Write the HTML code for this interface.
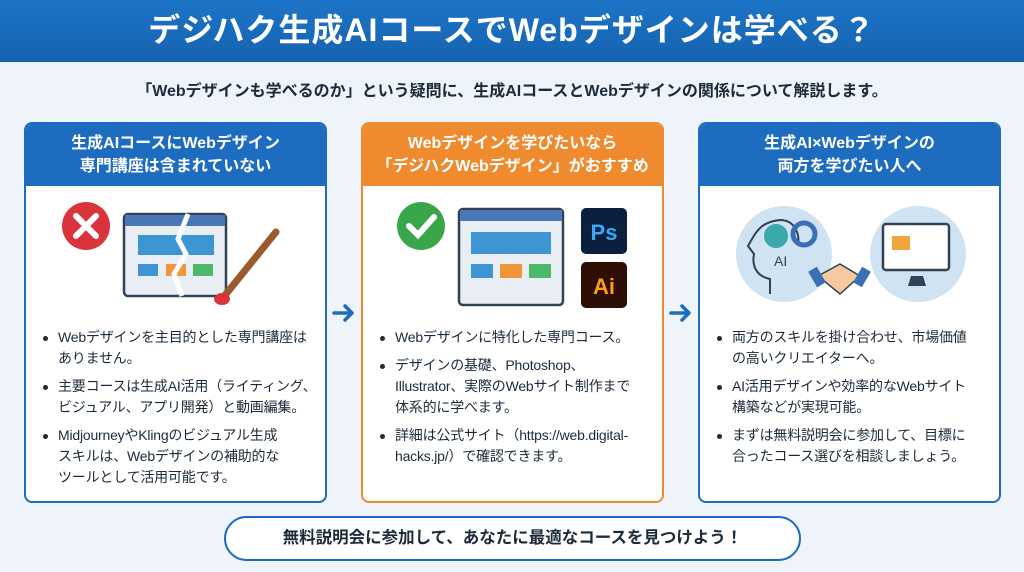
<!DOCTYPE html>
<html><head><meta charset="utf-8">
<style>
*{margin:0;padding:0;box-sizing:border-box}
body{width:1024px;height:572px;overflow:hidden;background:#eef4fa;font-family:"Liberation Sans","Noto Sans CJK JP",sans-serif;color:#1c2a3a;position:relative}
.hdr{position:absolute;left:0;top:0;width:1024px;height:62px;background:linear-gradient(#1d74c6,#1563b0);color:#fff;font-size:32px;font-weight:bold;text-align:center;line-height:60px;letter-spacing:1px}
.sub{position:absolute;left:0;top:77px;width:1024px;text-align:center;font-size:16px;font-weight:bold}
.card{position:absolute;top:122px;width:303px;height:381px;background:#fff;border:2px solid #1d6cc0;border-radius:8px;overflow:hidden}
.card.o{border-color:#ef8a2e}
.ch{height:62px;background:#1d6cc0;color:#fff;font-size:16px;font-weight:bold;text-align:center;line-height:23px;padding-top:8px}
.o .ch{background:#ef8a2e}
ul{position:absolute;top:203px;left:14px;right:0;list-style:none;font-size:14px;line-height:21px;white-space:nowrap;letter-spacing:-0.2px}
li{position:relative;padding-left:18px;margin-bottom:7px}
li:before{content:"";position:absolute;left:3px;top:9px;width:5px;height:5px;border-radius:50%;background:#1c2a3a}
.arr{position:absolute;top:302px}
.pill{position:absolute;left:224px;top:516px;width:577px;height:45px;border:2px solid #1d6cc0;border-radius:23px;background:#fff;text-align:center;line-height:41px;font-size:16.5px;font-weight:bold}
</style></head><body>
<div class="hdr">デジハク生成AIコースでWebデザインは学べる？</div>
<div class="sub">「Webデザインも学べるのか」という疑問に、生成AIコースとWebデザインの関係について解説します。</div>

<div class="card" style="left:24px">
<div class="ch">生成AIコースにWebデザイン<br>専門講座は含まれていない</div>
<svg style="position:absolute;left:0;top:60px" width="300" height="130">
<circle cx="60" cy="42" r="24" fill="#d9343c"/>
<path d="M50 32L70 52M70 32L50 52" stroke="#fff" stroke-width="6" stroke-linecap="round"/>
<rect x="98" y="30" width="102" height="82" rx="4" fill="#e9eef5" stroke="#2f4256" stroke-width="2.5"/>
<rect x="99" y="31" width="100" height="11" fill="#4a77b8"/>
<rect x="112" y="51" width="76" height="20" fill="#3d95d4"/>
<rect x="112" y="80" width="20" height="12" fill="#3d95d4"/><rect x="140" y="80" width="20" height="12" fill="#f0953a"/><rect x="167" y="80" width="20" height="12" fill="#4bb86a"/>
<path d="M162 30L152 55L160 70L148 90L156 112" stroke="#fff" stroke-width="5" fill="none"/>
<path d="M250 48L200 110" stroke="#9b5a2e" stroke-width="7" stroke-linecap="round"/>
<ellipse cx="196" cy="115" rx="8" ry="6" fill="#d9343c"/>
</svg>
<ul>
<li>Webデザインを主目的とした専門講座は<br>ありません。</li>
<li>主要コースは生成AI活用（ライティング、<br>ビジュアル、アプリ開発）と動画編集。</li>
<li>MidjourneyやKlingのビジュアル生成<br>スキルは、Webデザインの補助的な<br>ツールとして活用可能です。</li>
</ul></div>

<svg class="arr" style="left:331px" width="26" height="22"><path d="M3 11H21M14 4L21 11L14 18" stroke="#1d6cc0" stroke-width="3.5" fill="none" stroke-linecap="round" stroke-linejoin="round"/></svg>

<div class="card o" style="left:361px">
<div class="ch">Webデザインを学びたいなら<br>「デジハクWebデザイン」がおすすめ</div>
<svg style="position:absolute;left:0;top:60px" width="300" height="130">
<circle cx="58" cy="42" r="24" fill="#3aa64a"/>
<path d="M46 42L55 51L71 33" stroke="#fff" stroke-width="6" fill="none" stroke-linecap="round"/>
<rect x="96" y="25" width="104" height="96" rx="4" fill="#e9eef5" stroke="#2f4256" stroke-width="2.5"/>
<rect x="97" y="26" width="102" height="11" fill="#4a77b8"/>
<rect x="108" y="48" width="80" height="22" fill="#3d95d4"/>
<rect x="108" y="80" width="22" height="14" fill="#3d95d4"/><rect x="137" y="80" width="22" height="14" fill="#f0953a"/><rect x="166" y="80" width="22" height="14" fill="#4bb86a"/>
<rect x="218" y="24" width="46" height="46" rx="5" fill="#0b1f3f"/>
<text x="241" y="56" fill="#38a9f5" font-size="22" font-weight="bold" text-anchor="middle" font-family="Liberation Sans">Ps</text>
<rect x="218" y="78" width="46" height="46" rx="5" fill="#2d0f05"/>
<text x="241" y="110" fill="#ff9a1a" font-size="22" font-weight="bold" text-anchor="middle" font-family="Liberation Sans">Ai</text>
</svg>
<ul>
<li>Webデザインに特化した専門コース。</li>
<li>デザインの基礎、Photoshop、<br>Illustrator、実際のWebサイト制作まで<br>体系的に学べます。</li>
<li>詳細は公式サイト（https://web.digital-<br>hacks.jp/）で確認できます。</li>
</ul></div>

<svg class="arr" style="left:668px" width="26" height="22"><path d="M3 11H21M14 4L21 11L14 18" stroke="#1d6cc0" stroke-width="3.5" fill="none" stroke-linecap="round" stroke-linejoin="round"/></svg>

<div class="card" style="left:698px">
<div class="ch">生成AI×Webデザインの<br>両方を学びたい人へ</div>
<svg style="position:absolute;left:0;top:60px" width="300" height="130">
<circle cx="84" cy="70" r="48" fill="#cfe3f3"/>
<circle cx="218" cy="70" r="48" fill="#cfe3f3"/>
<path d="M70 110V95C55 92 52 80 54 70L48 62C56 48 60 38 80 36C95 36 100 50 98 62" stroke="#2f4256" stroke-width="2" fill="none"/>
<circle cx="76" cy="52" r="12" fill="#3aa8a8"/>
<circle cx="104" cy="50" r="11" fill="none" stroke="#3a6fb8" stroke-width="5"/>
<text x="74" y="82" font-size="14" font-family="Liberation Sans" fill="#2f4256">AI</text>
<rect x="183" y="40" width="66" height="46" rx="3" fill="#fff" stroke="#2f4256" stroke-width="2.5"/>
<rect x="192" y="52" width="18" height="14" fill="#f0a53a"/>
<path d="M211 92h12l3 10h-18z" fill="#2f4256"/>
<path d="M118 92L140 80L160 92L140 110Z" fill="#f6c9a0" stroke="#2f4256" stroke-width="1.5"/>
<rect x="112" y="84" width="10" height="18" fill="#3a6fb8" transform="rotate(-30 117 93)"/>
<rect x="157" y="84" width="10" height="18" fill="#3a6fb8" transform="rotate(30 162 93)"/>
</svg>
<ul>
<li>両方のスキルを掛け合わせ、市場価値<br>の高いクリエイターへ。</li>
<li>AI活用デザインや効率的なWebサイト<br>構築などが実現可能。</li>
<li>まずは無料説明会に参加して、目標に<br>合ったコース選びを相談しましょう。</li>
</ul></div>

<div class="pill">無料説明会に参加して、あなたに最適なコースを見つけよう！</div>
</body></html>
